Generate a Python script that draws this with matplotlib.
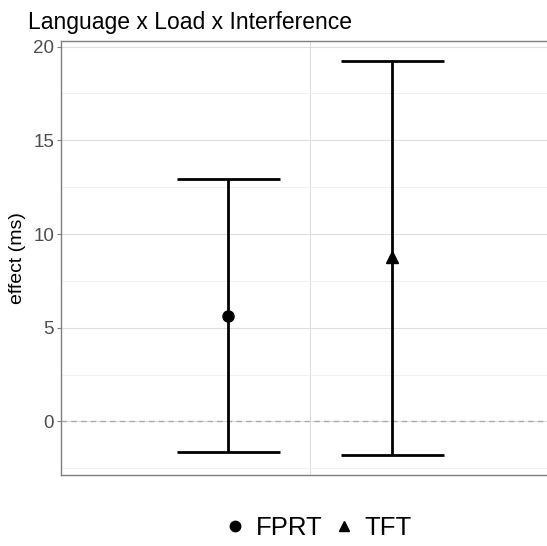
import numpy as np
import matplotlib.pyplot as plt
from matplotlib.lines import Line2D

plt.rcParams['font.family'] = ['Liberation Sans', 'DejaVu Sans']

measures = ["FPRT", "TFT"]
markers = ["o", "^"]
effect = [5.6, 8.75]
lower = [-1.65, -1.81]
upper = [12.96, 19.25]

fig = plt.figure(figsize=(5.47, 5.46), dpi=100)
ax = fig.add_axes([61/547, 71/546, 500/547, 434/546])

dodge = 0.2
cap = 0.126
xs = 1 + np.array([-dodge, dodge])

ax.axhline(0, color="#ababab", ls=(0, (4, 3)), lw=1, zorder=1)
for x, m, lo, hi, mk in zip(xs, effect, lower, upper, markers):
    ax.vlines(x, lo, hi, color="black", lw=2, zorder=3)
    ax.hlines([lo, hi], x - cap, x + cap, color="black", lw=2, zorder=3)
    ax.plot(x, m, marker=mk, color="black", ms=8, ls="none", zorder=4)

ax.set_xlim(0.392, 1.612)
ax.set_ylim(-2.86, 20.3)
ax.set_xticks([1])
ax.set_xticklabels([""])
ax.tick_params(axis="x", length=0)
ax.set_yticks([0, 5, 10, 15, 20])
ax.set_yticks([-2.5, 2.5, 7.5, 12.5, 17.5], minor=True)
ax.tick_params(axis="y", which="major", length=3, color="#7f7f7f", labelsize=13.5, labelcolor="#4d4d4d", pad=2)
ax.tick_params(axis="y", which="minor", length=0)
ax.grid(True, which="major", color="#dedede", lw=0.8)
ax.grid(True, which="minor", axis="y", color="#efefef", lw=0.6)
ax.set_axisbelow(True)
for s in ax.spines.values():
    s.set_color("#7f7f7f")
    s.set_linewidth(1)

ax.set_ylabel("effect (ms)", fontsize=14, labelpad=5)
fig.text(28/547, 1 - 29/546, "Language x Load x Interference", fontsize=16.5, va="baseline", ha="left")

handles = [Line2D([], [], marker=mk, color="black", ls="none", ms=7.5) for mk in markers]
fig.legend(handles, measures, loc="center", bbox_to_anchor=(317/547, 1 - 528/546), ncol=2,
           frameon=False, fontsize=18.5, handletextpad=0.3, columnspacing=0.35, handlelength=1)

fig.savefig("out.png", dpi=100)
